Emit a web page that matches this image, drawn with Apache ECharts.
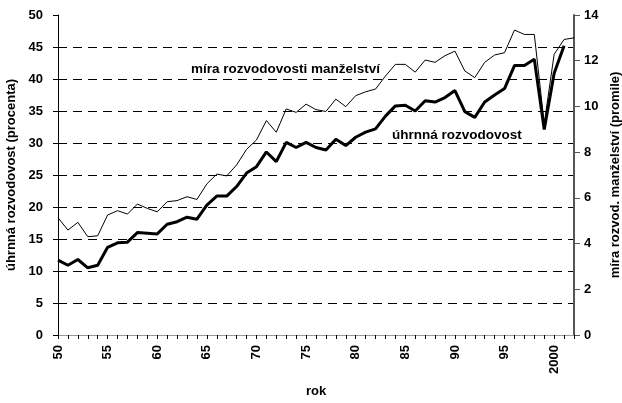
<!DOCTYPE html>
<html>
<head>
<meta charset="utf-8">
<script src="https://cdn.jsdelivr.net/npm/echarts@6/dist/echarts.min.js"></script>
<style>
  html, body { margin: 0; padding: 0; background: #fff; }
  #main { width: 622px; height: 403px; }
</style>
</head>
<body>
<div id="main"></div>
<script>
// roky 1950-2002
const years = ['1950', '1951', '1952', '1953', '1954', '1955', '1956', '1957', '1958', '1959',
    '1960', '1961', '1962', '1963', '1964', '1965', '1966', '1967', '1968', '1969',
    '1970', '1971', '1972', '1973', '1974', '1975', '1976', '1977', '1978', '1979',
    '1980', '1981', '1982', '1983', '1984', '1985', '1986', '1987', '1988', '1989',
    '1990', '1991', '1992', '1993', '1994', '1995', '1996', '1997', '1998', '1999',
    '2000', '2001', '2002']

// úhrnná rozvodovost (procenta) - levá osa
const uhrnna = [11.7, 10.9, 11.8, 10.5, 10.9, 13.7, 14.4, 14.5, 16.0, 15.9,
    15.8, 17.3, 17.7, 18.4, 18.1, 20.3, 21.7, 21.7, 23.2, 25.3,
    26.3, 28.6, 27.1, 30.1, 29.3, 30.1, 29.3, 28.9, 30.6, 29.6,
    30.9, 31.7, 32.2, 34.2, 35.8, 35.9, 35.0, 36.6, 36.4, 37.1,
    38.2, 34.9, 34.0, 36.4, 37.5, 38.5, 42.1, 42.1, 43.1, 32.1,
    40.9, 45.2, null]

// míra rozvodovosti manželství (promile) - pravá osa
const mira = [5.13, 4.59, 4.93, 4.30, 4.34, 5.25, 5.44, 5.29, 5.73, 5.54,
    5.39, 5.83, 5.88, 6.05, 5.93, 6.61, 7.04, 6.96, 7.44, 8.12,
    8.53, 9.38, 8.87, 9.89, 9.74, 10.1, 9.86, 9.78, 10.32, 9.99,
    10.47, 10.64, 10.76, 11.33, 11.84, 11.84, 11.5, 12.03, 11.93, 12.22,
    12.42, 11.55, 11.26, 11.93, 12.25, 12.35, 13.34, 13.15, 13.15, 9.25,
    12.28, 12.93, 13.0]

const font = 'Liberation Sans, Arial, sans-serif'
const chart = echarts.init(document.getElementById('main'))

const option = {
    backgroundColor: '#fff',
    animation: false,
    grid: { left: 58, right: 48, top: 15, bottom: 68, outerBoundsMode: 'none', containLabel: false },
    xAxis: [{
        type: 'category',
        data: years,
        boundaryGap: false,
        name: 'rok',
        nameLocation: 'middle',
        nameGap: 50,
        nameTextStyle: { fontFamily: font, fontWeight: 'bold', fontSize: 13, color: '#000' },
        axisLine: { lineStyle: { color: '#000', width: 1 } },
        axisTick: { show: true, interval: 0, length: 4, lineStyle: { color: '#000' } },
        axisLabel: {
            interval: (i) => i % 5 === 0,
            rotate: 90,
            margin: 10,
            fontFamily: font,
            fontWeight: 'bold',
            fontSize: 13,
            color: '#000',
            formatter: (v) => v === '2000' ? v : v.slice(2)
        },
        splitLine: { show: false }
    }, {
        type: 'category',
        data: years,
        boundaryGap: false,
        position: 'top',
        axisLine: { lineStyle: { color: '#999', width: 1 } },
        axisTick: { show: false },
        axisLabel: { show: false }
    }],
    yAxis: [{
        type: 'value',
        min: 0,
        max: 50,
        interval: 5,
        name: 'úhrnná rozvodovost (procenta)',
        nameLocation: 'middle',
        nameGap: 38,
        nameTextStyle: { fontFamily: font, fontWeight: 'bold', fontSize: 13, color: '#000' },
        axisLine: { show: true, lineStyle: { color: '#000', width: 1 } },
        axisTick: { show: true, length: 5, lineStyle: { color: '#000' } },
        axisLabel: { margin: 15, fontFamily: font, fontWeight: 'bold', fontSize: 13, color: '#000' },
        splitLine: {
            show: true,
            showMinLine: false,
            showMaxLine: false,
            lineStyle: { color: '#000', width: 1, type: [9, 6] }
        }
    }, {
        type: 'value',
        min: 0,
        max: 14,
        interval: 2,
        position: 'right',
        name: 'míra rozvod. manželství (promile)',
        nameLocation: 'middle',
        nameGap: 26,
        nameRotate: 90,
        nameTextStyle: { fontFamily: font, fontWeight: 'bold', fontSize: 13, color: '#000' },
        axisLine: { show: true, lineStyle: { color: '#555', width: 2 } },
        axisTick: { show: true, length: 6, lineStyle: { color: '#555' } },
        axisLabel: { margin: 10, fontFamily: font, fontWeight: 'bold', fontSize: 13, color: '#000' },
        splitLine: { show: false }
    }],
    series: [{
        name: 'míra rozvodovosti manželství',
        type: 'line',
        yAxisIndex: 1,
        data: mira,
        symbol: 'none',
        lineStyle: { color: '#000', width: 1 }
    }, {
        name: 'úhrnná rozvodovost',
        type: 'line',
        yAxisIndex: 0,
        data: uhrnna,
        symbol: 'none',
        lineStyle: { color: '#000', width: 3 }
    }],
    graphic: [{
        type: 'text',
        left: 191,
        top: 62,
        style: { text: 'míra rozvodovosti manželství', font: 'bold 13.5px ' + font, fill: '#000' }
    }, {
        type: 'text',
        left: 392,
        top: 128,
        style: { text: 'úhrnná rozvodovost', font: 'bold 13.5px ' + font, fill: '#000' }
    }]
}
chart.setOption(option)
</script>
</body>
</html>
